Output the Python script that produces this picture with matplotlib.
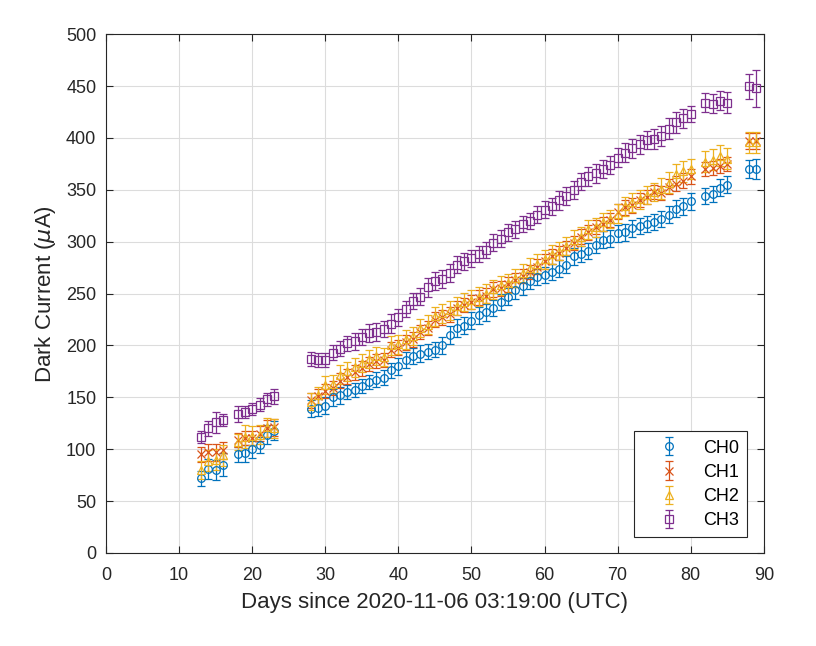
import matplotlib
matplotlib.use("Agg")
import matplotlib.pyplot as plt
import numpy as np

plt.rcParams['font.family'] = ['Liberation Sans', 'DejaVu Sans']

# measurement days (days since 2020-11-06 03:19:00 UTC)
days = [13, 14, 15, 16,
        18, 19, 20, 21, 22, 23,
        28, 29, 30, 31, 32, 33, 34, 35, 36, 37, 38, 39, 40, 41,
        42, 43, 44, 45, 46, 47, 48, 49, 50, 51, 52, 53, 54, 55, 56,
        57, 58, 59, 60, 61, 62, 63, 64, 65, 66, 67, 68, 69, 70,
        71, 72, 73, 74, 75, 76, 77, 78, 79, 80,
        82, 83, 84, 85,
        88, 89]

ch0 = [72, 81, 80, 85,
       95, 96, 100, 104, 114, 118,
       139, 140, 142, 150, 152, 155, 157, 161, 165, 167, 169, 176, 180, 186,
       190, 192, 194, 196, 200, 210, 217, 219, 224, 229, 232, 236, 242, 247, 253,
       257, 262, 266, 268, 271, 274, 278, 286, 288, 291, 297, 302, 303, 308,
       309, 313, 315, 317, 319, 322, 326, 332, 334, 339,
       344, 346, 352, 355,
       370, 370]

ch1 = [95, 97, 97, 99,
       109, 111, 111, 115, 120, 121,
       147, 151, 156, 159, 166, 170, 174, 178, 182, 185, 186, 196, 198, 203,
       206, 213, 217, 225, 227, 230, 236, 239, 242, 246, 248, 254, 255, 259, 263,
       267, 271, 276, 281, 286, 289, 294, 299, 305, 309, 314, 317, 321, 329,
       333, 335, 340, 343, 348, 347, 353, 356, 359, 363,
       370, 371, 373, 375,
       397, 397]

ch2 = [80, 89, 90, 94,
       107, 112, 113, 114, 121, 120,
       146, 152, 162, 163, 172, 175, 179, 183, 187, 190, 189, 200, 201, 206,
       209, 217, 220, 228, 231, 234, 238, 242, 244, 247, 250, 254, 258, 260, 265,
       270, 275, 279, 283, 288, 291, 296, 302, 305, 312, 314, 319, 322, 327,
       334, 338, 341, 345, 348, 351, 357, 365, 368, 370,
       377, 379, 383, 380,
       396, 396]

ch3 = [112, 120, 126, 128,
       134, 136, 139, 143, 148, 151,
       187, 186, 186, 193, 197, 202, 204, 208, 212, 213, 216, 221, 227, 235,
       243, 247, 256, 262, 264, 270, 278, 281, 284, 288, 292, 299, 303, 309, 312,
       317, 320, 326, 331, 334, 340, 344, 350, 358, 363, 366, 370, 374, 381,
       386, 390, 394, 398, 399, 402, 409, 415, 419, 423,
       434, 433, 436, 434,
       450, 448]

# error bars (uA)
err0 = [7, 10, 10, 11,
        7, 8, 8, 8, 9, 9,
        8, 8, 8, 8, 8, 7, 7, 7, 7, 7, 7, 7, 8, 8,
        8, 8, 7, 7, 8, 9, 9, 8, 8, 8, 8, 8, 8, 8, 8,
        8, 8, 8, 8, 8, 8, 8, 8, 8, 8, 8, 8, 8, 8,
        8, 8, 8, 8, 8, 8, 8, 8, 8, 8,
        8, 8, 8, 8,
        9, 10]
err1 = [7, 8, 8, 8,
        7, 7, 7, 7, 8, 8,
        7, 7, 7, 7, 7, 7, 7, 7, 7, 7, 7, 7, 7, 7,
        7, 7, 7, 7, 7, 7, 7, 7, 7, 7, 7, 7, 7, 7, 7,
        7, 7, 7, 7, 7, 7, 7, 7, 7, 7, 7, 7, 7, 7,
        7, 7, 7, 7, 7, 7, 7, 7, 7, 7,
        7, 7, 7, 7,
        8, 8]
err2 = [9, 10, 10, 10,
        8, 11, 9, 9, 9, 9,
        8, 8, 9, 9, 9, 9, 9, 9, 9, 9, 9, 9, 9, 9,
        9, 9, 9, 9, 9, 9, 9, 9, 9, 9, 9, 9, 9, 9, 9,
        9, 9, 9, 9, 9, 9, 9, 9, 9, 9, 9, 9, 9, 9,
        9, 9, 9, 9, 9, 10, 10, 10, 10, 10,
        10, 10, 10, 10,
        10, 10]
err3 = [6, 7, 10, 6,
        8, 6, 6, 6, 6, 7,
        7, 7, 7, 7, 7, 7, 8, 8, 9, 9, 8, 9, 8, 8,
        8, 8, 9, 9, 9, 9, 8, 8, 8, 8, 8, 8, 8, 8, 8,
        8, 8, 8, 8, 8, 9, 9, 9, 8, 9, 9, 9, 9, 9,
        9, 9, 9, 9, 10, 10, 10, 10, 9, 8,
        9, 9, 9, 10,
        12, 18]

series = [("CH0", ch0, err0, "#0072BD", "o"),
          ("CH1", ch1, err1, "#D95319", "x"),
          ("CH2", ch2, err2, "#EDB120", "^"),
          ("CH3", ch3, err3, "#7E2F8E", "s")]

fig = plt.figure(figsize=(8.16, 6.46), dpi=100)
ax = fig.add_axes([0.130, 0.144, 0.806, 0.803])

for name, vals, err, col, mk in series:
    ax.errorbar(days, vals, yerr=err, fmt=mk, color=col, mfc='none', mec=col,
                ms=5.5, mew=0.9, elinewidth=0.9, capsize=3, capthick=0.9, label=name)

ax.set_xlim(0, 90)
ax.set_ylim(0, 500)
ax.set_xticks(np.arange(0, 91, 10))
ax.set_yticks(np.arange(0, 501, 50))
ax.grid(True, color='#dcdcdc', linewidth=0.8)
ax.set_axisbelow(True)
ax.tick_params(direction='in', length=5, labelsize=13, colors='#262626',
               top=True, right=True, pad=7)
ax.tick_params(axis='x', pad=10)
for s in ax.spines.values():
    s.set_color('#262626')
    s.set_linewidth(0.8)

ax.set_xlabel("Days since 2020-11-06 03:19:00 (UTC)", fontsize=16, color='#262626',
              labelpad=6)
ax.set_ylabel(r"Dark Current ($\mu$A)", fontsize=16, color='#262626', labelpad=6)

leg = ax.legend(loc='lower right', bbox_to_anchor=(0.975, 0.03), borderaxespad=0,
                fancybox=False, framealpha=1, edgecolor='#262626', fontsize=13,
                handlelength=3.0, handletextpad=0.4, labelspacing=0.4,
                borderpad=0.45)
leg.get_frame().set_linewidth(0.8)

fig.savefig("out.png", dpi=100)
